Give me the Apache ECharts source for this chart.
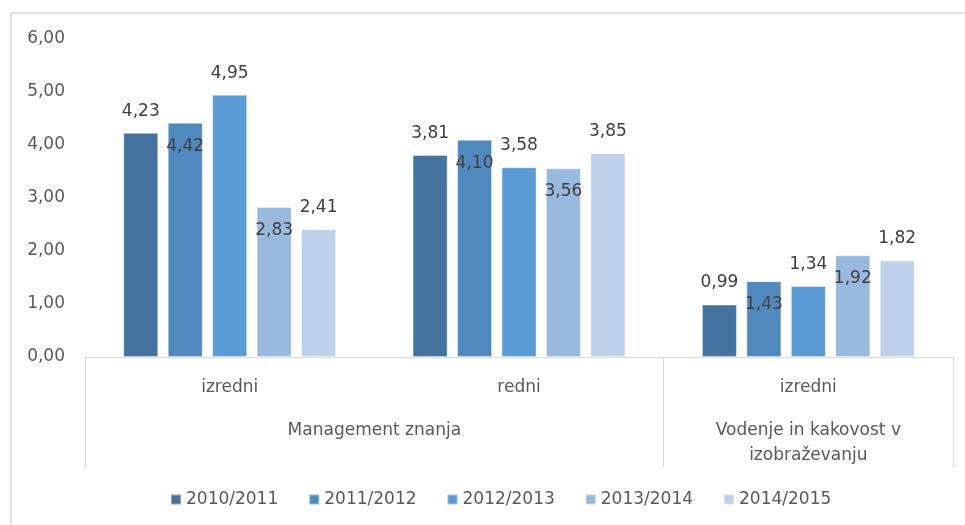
<!DOCTYPE html>
<html>
<head>
<meta charset="utf-8">
<script src="https://cdn.jsdelivr.net/npm/echarts@6/dist/echarts.min.js"></script>
<style>
  html, body { margin: 0; padding: 0; background: #fff; }
  #main { width: 965px; height: 525px; }
</style>
</head>
<body>
<div id="main"></div>
<script>
// categories (lower level) and groups (upper level)
const categories = ['izredni', 'redni', 'izredni'];
const groupLabels = ['Management znanja', 'Vodenje in kakovost v\nizobraževanju'];
const years = ['2010/2011', '2011/2012', '2012/2013', '2013/2014', '2014/2015'];
const yTicks = [0, 1, 2, 3, 4, 5, 6];

// one array per school year
const y2010 = [4.23, 3.81, 0.99];
const y2011 = [4.42, 4.10, 1.43];
const y2012 = [4.95, 3.58, 1.34];
const y2013 = [2.83, 3.56, 1.92];
const y2014 = [2.41, 3.85, 1.82];

// label inside the bar top (true) or above it (false), as in the picture
const inside2010 = [false, false, false];
const inside2011 = [true, true, true];
const inside2012 = [false, false, false];
const inside2013 = [true, true, true];
const inside2014 = [false, false, false];

const colors = ['#44739f', '#4f89be', '#5b9bd5', '#9ab9df', '#bdd1ea'];
const FONT = 'DejaVu Sans';

const fmt = v => v.toFixed(2).replace('.', ',');

function makeSeries(name, values, inside, color) {
    return {
        name: name,
        type: 'bar',
        barWidth: 35,
        barGap: '27%',
        itemStyle: { color: color, borderColor: 'rgba(255,255,255,0.4)', borderWidth: 1 },
        data: values.map((v, i) => ({
            value: v,
            label: inside[i]
                ? { position: 'insideTop', distance: 15 }
                : { position: 'top', distance: 13 }
        })),
        label: {
            show: true,
            color: '#404040',
            fontFamily: FONT,
            fontSize: 17,
            formatter: p => fmt(p.value)
        }
    };
}

const chart = echarts.init(document.getElementById('main'), null, { renderer: 'canvas' });

chart.setOption({
    animation: false,
    backgroundColor: '#fff',
    color: colors,
    textStyle: { fontFamily: FONT },
    graphic: [{
        type: 'rect',
        shape: { x: 11, y: 13, width: 1000, height: 600 },
        style: { fill: 'none', stroke: '#d9d9d9', lineWidth: 1.5 },
        silent: true
    }],
    grid: { left: 85, right: 12, top: 39, bottom: 168, containLabel: false },
    legend: {
        left: 165,
        top: 486,
        itemWidth: 10,
        itemHeight: 10,
        itemGap: 30,
        icon: 'rect',
        textStyle: { color: '#595959', fontSize: 17, fontFamily: FONT },
        data: years
    },
    xAxis: [{
        type: 'category',
        data: categories,
        position: 'bottom',
        axisLine: { lineStyle: { color: '#d9d9d9', width: 1 } },
        axisTick: {
            show: true,
            length: 110,
            interval: (idx) => idx !== 1,
            lineStyle: { color: '#d9d9d9', width: 1 }
        },
        axisLabel: { color: '#595959', fontSize: 17, fontFamily: FONT, margin: 22 }
    }, {
        type: 'value',
        position: 'bottom',
        min: 0,
        max: categories.length,
        interval: 0.5,
        axisLine: { show: false },
        axisTick: { show: false },
        splitLine: { show: false },
        axisLabel: {
            color: '#595959',
            fontSize: 17,
            fontFamily: FONT,
            margin: 61,
            lineHeight: 25,
            align: 'center',
            showMinLabel: true,
            showMaxLabel: true,
            formatter: v => v === 1 ? groupLabels[0] : (v === 2.5 ? groupLabels[1] : '')
        }
    }],
    yAxis: {
        type: 'value',
        min: yTicks[0],
        max: yTicks[yTicks.length - 1],
        interval: 1,
        axisLine: { show: false },
        axisTick: { show: false },
        splitLine: { show: false },
        axisLabel: {
            color: '#595959',
            fontSize: 17,
            fontFamily: FONT,
            margin: 20,
            formatter: v => fmt(v)
        }
    },
    series: [
        makeSeries(years[0], y2010, inside2010, colors[0]),
        makeSeries(years[1], y2011, inside2011, colors[1]),
        makeSeries(years[2], y2012, inside2012, colors[2]),
        makeSeries(years[3], y2013, inside2013, colors[3]),
        makeSeries(years[4], y2014, inside2014, colors[4])
    ]
});
</script>
</body>
</html>
